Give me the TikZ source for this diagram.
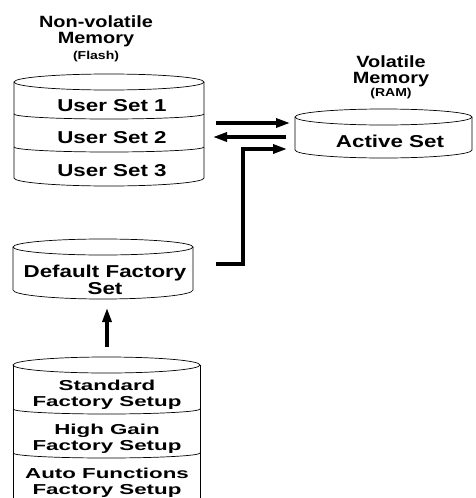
\documentclass[tikz,border=0pt]{standalone}
\usepackage{fontspec}
\setmainfont{Liberation Sans}
\newfontfamily\hdfont{Liberation Sans}[FakeStretch=1.22]
\newfontfamily\boxfont{Liberation Sans}[FakeStretch=1.3]
\newfontfamily\lowfont{Liberation Sans}[FakeStretch=1.55]
\usetikzlibrary{arrows.meta}
\begin{document}
\begin{tikzpicture}[x=1pt,y=-1pt,
  outline/.style={draw=black,line width=0.7pt},
  body/.style={inner sep=0pt,outer sep=0pt,draw=none},
  hdr/.style={font=\hdfont\bfseries\fontsize{16.3}{16}\selectfont,align=center,inner sep=0pt,anchor=base},
  sub/.style={font=\hdfont\bfseries\fontsize{11.5}{12}\selectfont,inner sep=0pt,anchor=base},
  lbl/.style={font=\boxfont\bfseries\fontsize{17.2}{14.3}\selectfont,align=center,inner sep=0pt,anchor=base},
  low/.style={font=\lowfont\bfseries\fontsize{14.4}{15.3}\selectfont,align=center,inner sep=0pt,anchor=base},
  flow/.style={line width=3.2pt,-{Triangle[length=14pt,width=9pt]}},
]
\useasboundingbox (0,0) rectangle (475,498);

% invisible body nodes spanning each cylinder
\node[body,minimum width=190pt,minimum height=96pt] (flash) at (109,130) {};
\node[body,minimum width=177pt,minimum height=33pt] (ram) at (383.5,133.5) {};
\node[body,minimum width=180pt,minimum height=43pt] (dflt) at (103,268.5) {};
\node[body,minimum width=187pt,minimum height=145pt] (fact) at (106.5,437.5) {};

% flash cylinder
\draw[outline] (109,82) ellipse[x radius=95pt,y radius=8pt];
\draw[outline] (14,82) -- (14,178) arc[start angle=180,end angle=360,x radius=95pt,y radius=8pt] -- (204,82);
\draw[outline] (14,114) arc[start angle=180,end angle=360,x radius=95pt,y radius=5pt];
\draw[outline] (14,147) arc[start angle=180,end angle=360,x radius=95pt,y radius=5pt];

% ram cylinder
\draw[outline] (383.5,117) ellipse[x radius=88.5pt,y radius=8pt];
\draw[outline] (295,117) -- (295,150) arc[start angle=180,end angle=360,x radius=88.5pt,y radius=8pt] -- (472,117);

% default factory cylinder
\draw[outline] (103,247) ellipse[x radius=90pt,y radius=8pt];
\draw[outline] (13,247) -- (13,290) arc[start angle=180,end angle=360,x radius=90pt,y radius=9pt] -- (193,247);

% factory setups cylinder
\draw[outline] (106.5,365) ellipse[x radius=93.5pt,y radius=8pt];
\draw[outline] (13,365) -- (13,500);
\draw[outline] (200,365) -- (200,500);
\draw[outline] (13,409) arc[start angle=180,end angle=360,x radius=93.5pt,y radius=5pt];
\draw[outline] (13,453) arc[start angle=180,end angle=360,x radius=93.5pt,y radius=5pt];

% headers
\node[hdr] (nvh) at (96,43) {Non-volatile\\Memory};
\node[sub] (nvs) at (96,59) {(Flash)};
\node[hdr] (vh) at (391,83) {Volatile\\Memory};
\node[sub] (vs) at (391,96) {(RAM)};

% labels
\node[lbl] (us1) at (112,111) {User Set 1};
\node[lbl] (us2) at (112,143) {User Set 2};
\node[lbl] (us3) at (112,176) {User Set 3};
\node[lbl] (act) at (390,147) {Active Set};
\node[lbl] (dfs) at (105,294) {Default Factory\\Set};
\node[low] (std) at (107,406) {Standard\\Factory Setup};
\node[low] (hig) at (107,450) {High Gain\\Factory Setup};
\node[low] (aut) at (107,494) {Auto Functions\\Factory Setup};

% connectors
\coordinate (a1s) at ([xshift=12pt,yshift=7pt]flash.east);
\coordinate (a1e) at ([xshift=-5pt,yshift=10.5pt]ram.west);
\coordinate (a2s) at ([xshift=-9pt,yshift=-3.5pt]ram.west);
\coordinate (a2e) at ([xshift=9pt,yshift=-7pt]flash.east);
\coordinate (a3s) at ([xshift=23pt,yshift=4.5pt]dflt.east);
\coordinate (a3e) at ([xshift=-8pt,yshift=-15.5pt]ram.west);
\draw[flow] (a1s) -- (a1e);
\draw[flow] (a2s) -- (a2e);
\draw[flow] (a3s) -| ([xshift=-44pt]a3e) -- (a3e);
\draw[flow] ([xshift=0.5pt,yshift=18pt]fact.north) -- ([xshift=4pt,yshift=-18pt]dflt.south);
\end{tikzpicture}
\end{document}
